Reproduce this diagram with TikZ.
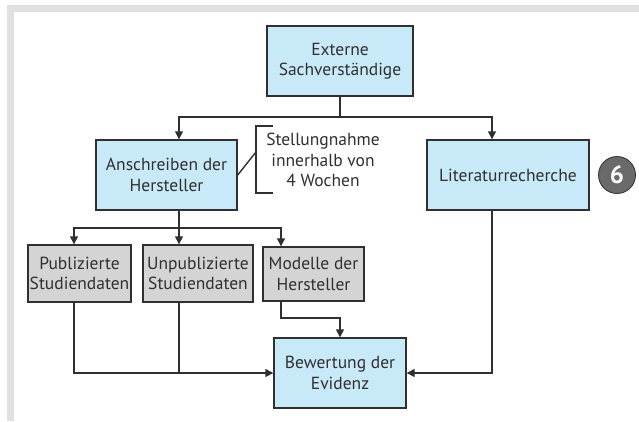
\documentclass[tikz,border=0pt]{standalone}
\usepackage{fontspec}
\setmainfont{PT Sans}
\usetikzlibrary{arrows.meta}
\definecolor{boxblue}{HTML}{C8E9F8}
\definecolor{boxgray}{HTML}{D4D4D4}
\definecolor{ink}{HTML}{303030}
\definecolor{framegray}{HTML}{E0E0E0}
\definecolor{badge}{HTML}{6A6A6A}
\tikzset{
  txt/.style={text=ink, font=\fontsize{17.5}{20.5}\selectfont},
  box/.style={txt, draw=ink, line width=1.4pt, align=center, inner sep=0pt},
  bluebox/.style={box, fill=boxblue},
  graybox/.style={box, fill=boxgray},
  conn/.style={draw=ink, line width=1.4pt},
  arr/.style={conn, -{Triangle[length=8pt,width=8pt]}},
}
\begin{document}
\begin{tikzpicture}[x=1pt,y=-1pt]
  % page and light gray frame
  \useasboundingbox (0,0) rectangle (639,421);
  \fill[white] (0,0) rectangle (639,421);
  \fill[framegray] (7,5) rectangle (639,12);
  \fill[framegray] (7,5) rectangle (14,421);

  % boxes
  \node[bluebox, minimum width=146pt, minimum height=70pt] (ext) at (340,61) {Externe\\Sachverständige};
  \node[bluebox, minimum width=141pt, minimum height=70pt] (ans) at (166.5,175) {Anschreiben der\\Hersteller};
  \node[bluebox, minimum width=162pt, minimum height=70pt] (lit) at (508,175) {Literaturrecherche};
  \node[graybox, minimum width=103pt, minimum height=57pt] (pub) at (79.5,273.5) {Publizierte\\Studiendaten};
  \node[graybox, minimum width=110pt, minimum height=57pt] (unp) at (198,273.5) {Unpublizierte\\Studiendaten};
  \node[graybox, minimum width=101pt, minimum height=54pt] (mod) at (313.5,274) {Modelle der\\Hersteller};
  \node[bluebox, minimum width=132pt, minimum height=70pt] (bew) at (340,373) {Bewertung der\\Evidenz};

  % note with bracket
  \node[txt, align=center] (note) at (323,160) {Stellungnahme\\innerhalb von\\4 Wochen};
  \coordinate (bt) at (256,126);
  \coordinate (bb) at (256,193);
  \coordinate (bm) at (256,152);
  \draw[conn] (273,126) -- (bt) -- (bb) -- (273,193);
  \draw[conn] (ans.east |- 0,175) -- (bm);

  % badge
  \node[circle, fill=badge, draw=ink, line width=0.8pt, minimum size=37pt, inner sep=0pt,
        text=white, font=\fontsize{25}{25}\selectfont\bfseries] (six) at (617,175) {6};

  % column guides
  \coordinate (xa) at (179,0);
  \coordinate (xl) at (492,0);
  \coordinate (xp) at (74,0);
  \coordinate (xm) at (281,0);

  % from the experts
  \coordinate (split) at (340,117);
  \draw[conn] (ext.south) -- (split);
  \draw[arr] (split) -| (ans.north -| xa);
  \draw[arr] (split) -| (lit.north -| xl);

  % from the manufacturers' letter
  \coordinate (fan) at (179,228);
  \draw[conn] (ans.south -| xa) -- (fan);
  \draw[arr] (fan) -| (pub.north -| xp);
  \draw[arr] (fan) -- (unp.north -| xa);
  \draw[arr] (fan) -| (mod.north -| xm);

  % into the evaluation
  \coordinate (low) at (179,373);
  \draw[conn] (pub.south -| xp) |- (low);
  \draw[arr] (unp.south -| xa) |- (bew.west);
  \coordinate (mbend) at (281,318);
  \draw[arr] (mod.south -| xm) -- (mbend) -| (bew.north);
  \draw[arr] (lit.south -| xl) |- (bew.east);
\end{tikzpicture}
\end{document}
